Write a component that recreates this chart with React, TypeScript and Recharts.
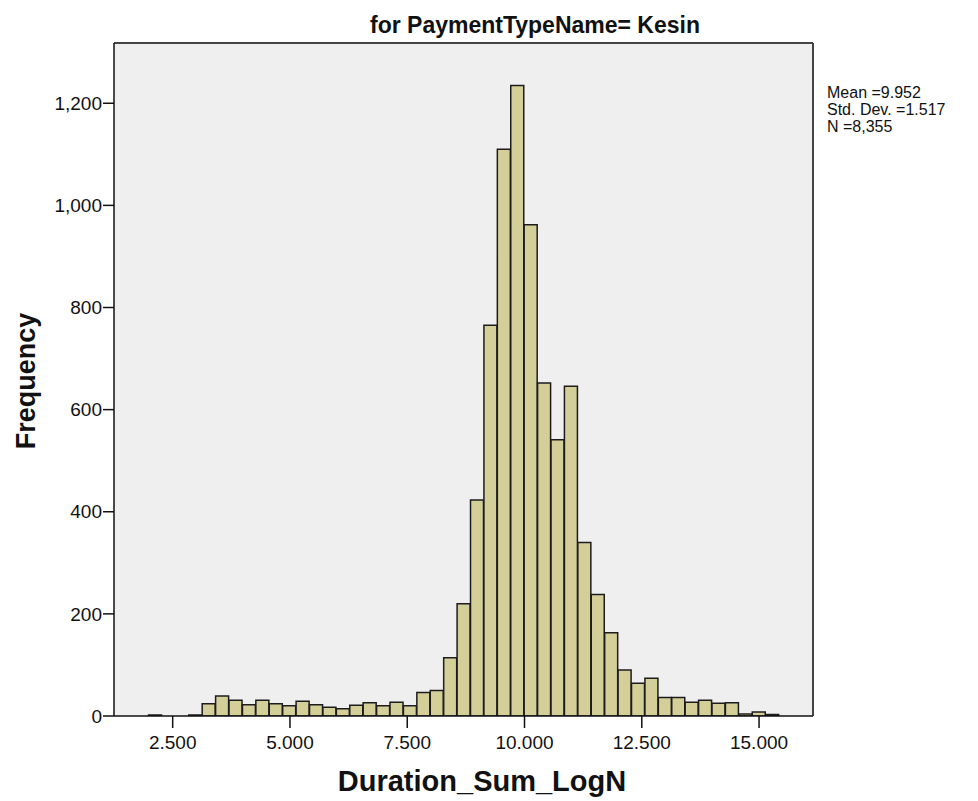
import { ComposedChart, Bar, XAxis, YAxis, CartesianGrid, ReferenceLine } from 'recharts'

// histogram bins (left edge + width), counts
const BIN_START = 1.985
const BIN_WIDTH = 0.286
const COUNTS = [
  2, 0, 0, 2, 24, 39, 31, 22, 31, 24, 20, 29, 22, 17, 14, 21, 26, 20, 27, 20, 46, 50, 114,
  220, 423, 765, 1110, 1235, 962, 652, 541, 646, 340, 238, 163, 90, 64, 74, 36, 36, 27, 31,
  25, 26, 4, 8, 3,
]

const X_TICKS = [2.5, 5, 7.5, 10, 12.5, 15]
const Y_TICKS = [0, 200, 400, 600, 800, 1000, 1200]
const X_DOMAIN: [number, number] = [1.249, 16.15]
const Y_DOMAIN: [number, number] = [0, 1318]

const TITLE = 'for PaymentTypeName= Kesin'
const X_LABEL = 'Duration_Sum_LogN'
const Y_LABEL = 'Frequency'
const STATS = ['Mean =9.952', 'Std. Dev. =1.517', 'N =8,355']

const W = 978
const H = 801
const MARGIN = { top: 43, right: 165, bottom: 55, left: 54 }
const Y_AXIS_W = 60
const X_AXIS_H = 30
const FONT = '"Liberation Sans", Arial, sans-serif'

const data = COUNTS.map((count, i) => ({ bin: +(BIN_START + i * BIN_WIDTH).toFixed(3), count }))

const plotW = W - MARGIN.left - MARGIN.right - Y_AXIS_W
const span = X_DOMAIN[1] - X_DOMAIN[0]
const binEnd = BIN_START + COUNTS.length * BIN_WIDTH
const padLeft = ((BIN_START - X_DOMAIN[0]) / span) * plotW
const padRight = ((X_DOMAIN[1] - binEnd) / span) * plotW

export default function App() {
  return (
    <div style={{ position: 'absolute', left: 0, top: 0, width: W, height: H, background: '#fff', fontFamily: FONT }}>
      <ComposedChart width={W} height={H} data={data} margin={MARGIN} barCategoryGap={0} barGap={0}>
        <CartesianGrid horizontal={false} vertical={false} fill="#efefef" xAxisId="num" />
        <XAxis
          xAxisId="num"
          dataKey="bin"
          type="number"
          domain={X_DOMAIN}
          allowDataOverflow
          ticks={X_TICKS}
          interval={0}
          height={X_AXIS_H}
          tickFormatter={(v: number) => v.toFixed(3)}
          tickSize={12}
          tickMargin={8}
          axisLine={{ stroke: '#111', strokeWidth: 1.5 }}
          tickLine={{ stroke: '#111', strokeWidth: 1.5 }}
          tick={{ fill: '#111', fontSize: 19, fontFamily: FONT }}
        />
        <XAxis
          xAxisId="bins"
          dataKey="bin"
          type="category"
          hide
          height={0}
          padding={{ left: padLeft, right: padRight }}
        />
        <YAxis
          type="number"
          domain={Y_DOMAIN}
          allowDataOverflow
          ticks={Y_TICKS}
          interval={0}
          width={Y_AXIS_W}
          tickFormatter={(v: number) => v.toLocaleString('en-US')}
          tickSize={11}
          tickMargin={1}
          axisLine={{ stroke: '#111', strokeWidth: 1.5 }}
          tickLine={{ stroke: '#111', strokeWidth: 1.5 }}
          tick={{ fill: '#111', fontSize: 19, fontFamily: FONT }}
        />
        <Bar
          xAxisId="bins"
          dataKey="count"
          fill="#d4cf99"
          stroke="#1c1c1c"
          strokeWidth={1.5}
          isAnimationActive={false}
        />
        <ReferenceLine xAxisId="num" y={Y_DOMAIN[1]} stroke="#444" strokeWidth={2} ifOverflow="visible" />
        <ReferenceLine xAxisId="num" x={X_DOMAIN[1]} stroke="#444" strokeWidth={2} ifOverflow="visible" />
      </ComposedChart>
      <svg width={W} height={H} style={{ position: 'absolute', left: 0, top: 0, pointerEvents: 'none' }}>
        <text x={535} y={33} textAnchor="middle" fontSize={23} fontWeight="bold" fill="#111" fontFamily={FONT}>
          {TITLE}
        </text>
        <text x={482} y={791} textAnchor="middle" fontSize={29} fontWeight="bold" fill="#111" fontFamily={FONT}>
          {X_LABEL}
        </text>
        <text
          x={35}
          y={381}
          textAnchor="middle"
          fontSize={27}
          fontWeight="bold"
          fill="#111"
          fontFamily={FONT}
          transform="rotate(-90, 35, 381)"
        >
          {Y_LABEL}
        </text>
        {STATS.map((s, i) => (
          <text key={s} x={827} y={98 + i * 17} fontSize={16} fill="#111" fontFamily={FONT}>
            {s}
          </text>
        ))}
      </svg>
    </div>
  )
}
